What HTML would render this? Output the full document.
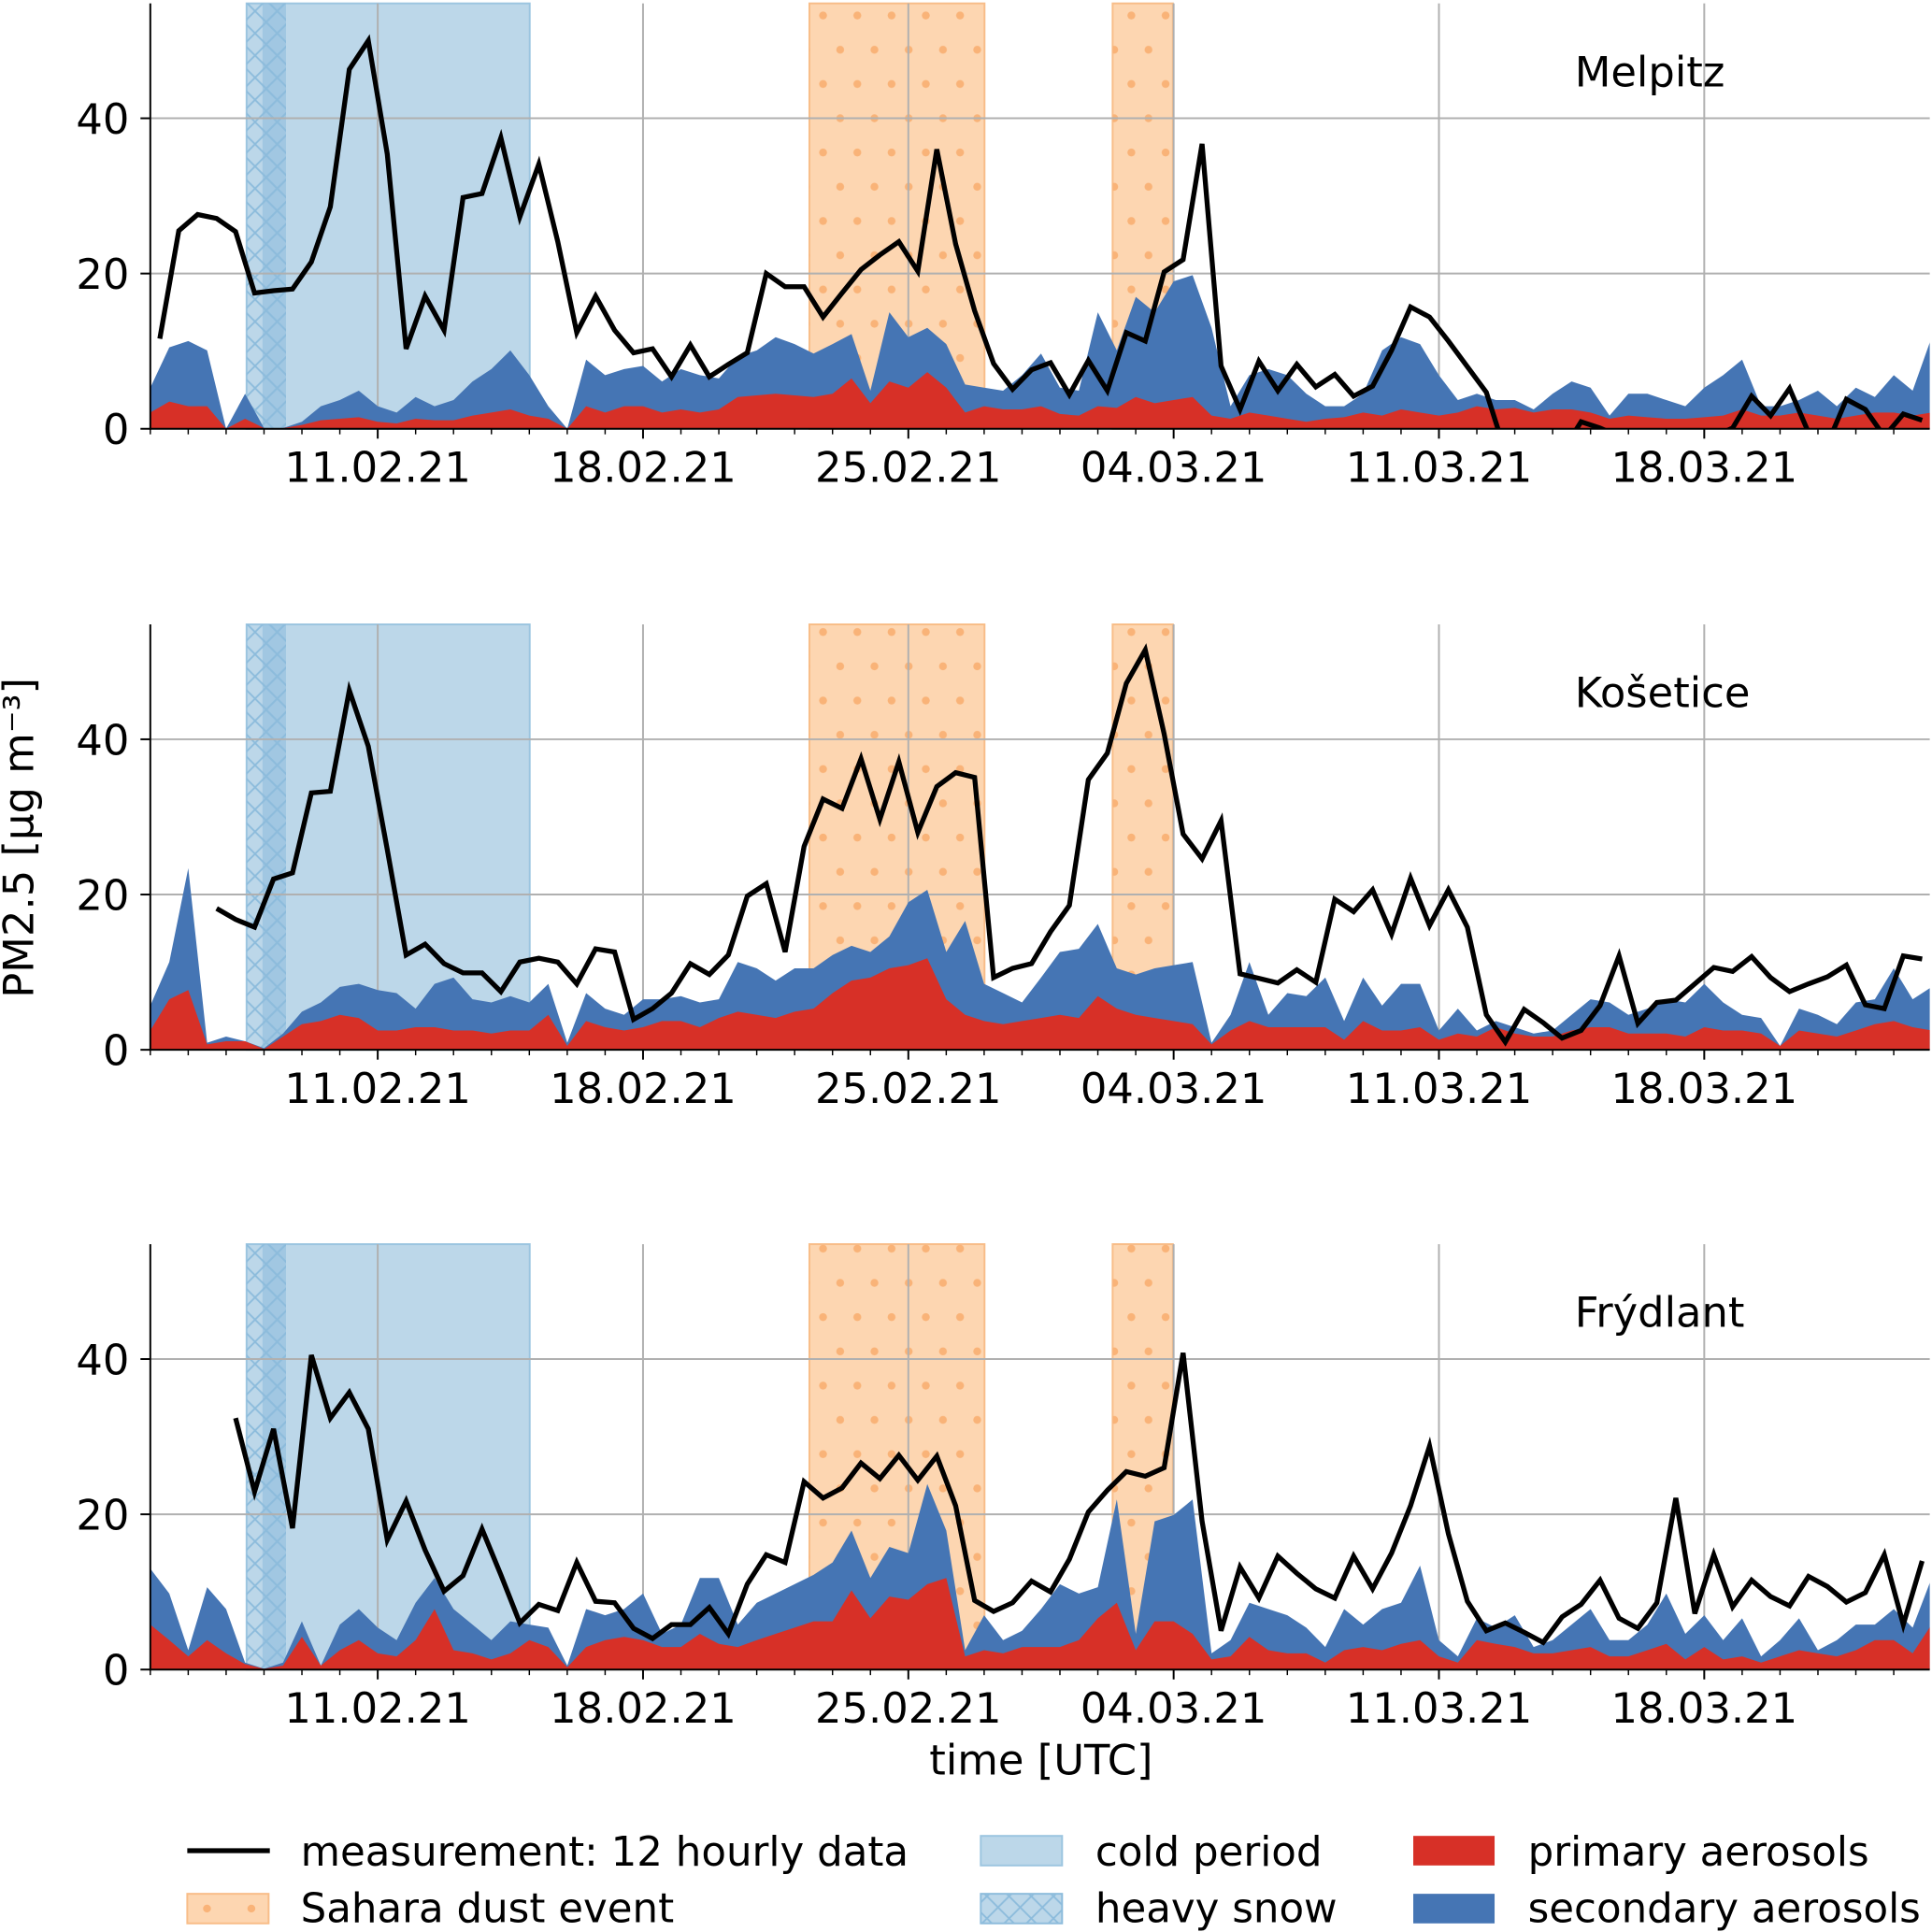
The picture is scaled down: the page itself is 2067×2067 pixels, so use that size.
<!DOCTYPE html>
<html><head><meta charset="utf-8"><style>
html,body{margin:0;padding:0;background:#fff;}
svg{display:block;font-family:"DejaVu Sans","Liberation Sans",sans-serif;}
</style></head><body>
<svg id="chart" width="2067" height="2067" viewBox="0 0 1568 1568" xmlns="http://www.w3.org/2000/svg">
<defs>
<pattern id="dots" patternUnits="userSpaceOnUse" width="27.8" height="55.6" x="0.8" y="0">
<circle cx="0" cy="12.6" r="3.2" fill="#f9b378"/><circle cx="27.8" cy="12.6" r="3.2" fill="#f9b378"/>
<circle cx="13.9" cy="40.4" r="3.2" fill="#f9b378"/>
</pattern>
<pattern id="cross" patternUnits="userSpaceOnUse" width="18" height="18">
<path d="M0,0L18,18M18,0L0,18" stroke="#8dbcdc" stroke-width="1.4" fill="none"/>
</pattern>
</defs>
</svg>
<script>
// ---- data ----
const xTickDays = [6, 13, 20, 27, 34, 41];
const xTickLabels = ['11.02.21','18.02.21','25.02.21','04.03.21','11.03.21','18.03.21'];
const yTicks = [0, 20, 40];
const coldPeriod = [2.54, 10.01];
const heavySnow = [2.54, 3.58];
const heavySnowCore = [2.96, 3.58];
const saharaEvents = [[17.39, 22.01], [25.39, 26.98]];

const melpitzMeas = [11.6,25.5,27.6,27.1,25.4,17.5,17.8,18,21.5,28.6,
46.3,50,35.4,10.3,17.1,12.7,29.8,30.3,37.5,27.3,
34.1,24.1,12.4,17.1,12.7,9.8,10.3,6.7,10.8,6.7,
8.3,9.8,20,18.3,18.3,14.4,17.5,20.5,22.4,24.1,
20.3,36,23.8,15.2,8.4,5.1,7.6,8.5,4.4,8.8,
4.9,12.4,11.3,20.2,21.8,36.7,8.1,2.5,8.7,4.9,
8.3,5.4,7,4.2,5.5,10.1,15.7,14.4,11.3,8,
4.7,-3,-3,-3,-3,0.9,0.1,-1,-1,-1,
-1,-1,-1,0.1,4.2,1.7,5.2,-0.5,-2,3.8,
2.5,-1,1.9,1.1];
const melpitzTotal = [5.3,10.5,11.3,10.1,0,4.5,0.1,0.1,0.9,2.9,
3.7,4.9,2.9,2.1,4.1,2.9,3.7,6.1,7.7,10.1,
6.9,2.9,0,8.9,6.9,7.7,8.1,6.1,7.7,6.9,
6.5,9.3,10.1,11.8,10.9,9.7,10.9,12.2,4.9,15,
11.8,13,10.9,5.7,5.3,4.9,6.9,9.7,5.3,4.9,
15,10.1,17,15,19,19.8,13,2.9,6.9,7.7,
6.9,4.5,2.9,2.9,4.5,10.1,11.8,10.9,6.9,3.7,
4.5,3.7,3.7,2.5,4.5,6.1,5.3,1.7,4.5,4.5,
3.7,2.9,5.3,6.9,8.9,2.9,2.9,3.7,4.9,2.9,
5.3,4.1,6.9,4.9,11.8];
const melpitzPrimary = [2.1,3.5,2.9,2.9,0,1.3,0.1,0.1,0.5,1.1,
1.3,1.5,0.9,0.7,1.3,1.1,1.1,1.7,2.1,2.5,
1.7,1.3,0,2.9,2.1,2.9,2.9,2.1,2.5,2.1,
2.5,4.1,4.3,4.5,4.3,4.1,4.5,6.5,3.3,6.1,
5.3,7.3,5.3,2.1,2.9,2.5,2.5,2.9,1.9,1.7,
2.9,2.7,4.1,3.3,3.7,4.1,1.7,1.3,2.1,1.7,
1.3,0.9,1.3,1.5,2.1,1.7,2.5,2.1,1.7,2.1,
2.9,2.5,2.7,2.1,2.5,2.5,2.1,1.3,1.7,1.5,
1.3,1.3,1.5,1.7,2.5,1.7,1.7,2.1,1.7,1.3,
1.7,2.1,2.1,1.7,2.1];

const kosMeas = [null,null,null,18.2,16.8,15.8,22,22.8,33.1,33.3,
46.3,39.1,25.8,12.2,13.6,11.1,9.9,9.9,7.5,11.3,
11.8,11.3,8.5,13,12.6,3.9,5.3,7.3,11.1,9.7,
12.2,19.8,21.4,12.6,26.2,32.3,31.1,37.5,29.7,37.1,
28,33.9,35.7,35.1,9.3,10.5,11.1,15.2,18.6,34.8,
38.2,47.2,51.5,40.7,27.8,24.6,29.5,9.8,9.2,8.6,
10.3,8.7,19.4,17.8,20.6,14.9,22.1,16,20.6,15.8,
4.5,1,5.2,3.5,1.5,2.5,5.7,12.1,3.4,6.1,
6.4,8.5,10.6,10.1,12,9.3,7.5,8.5,9.4,10.9,
5.8,5.3,12.1,11.7];
const kosTotal = [5.7,11.3,23.4,0.9,1.7,1.1,0.2,2.1,4.9,6.1,
8.1,8.5,7.7,7.3,5.3,8.5,9.3,6.5,6.1,6.9,
6.1,8.5,0.9,7.3,5.3,4.5,6.5,6.5,6.9,6.1,
6.5,11.3,10.5,8.9,10.5,10.5,12.2,13.4,12.6,14.6,
19,20.6,12.6,16.6,8.5,7.3,6.1,9.3,12.6,13,
16.2,10.5,9.7,10.5,10.9,11.3,0.9,4.5,11.3,4.5,
7.3,6.9,9.3,3.7,9.3,5.7,8.5,8.5,2.5,5.3,
2.5,3.7,2.9,2.1,2.5,4.5,6.5,6.1,4.5,5.3,
6.5,6.1,8.5,6.1,4.5,4.1,0.5,5.3,4.5,3.3,
6.1,6.5,10.5,6.5,8.1];
const kosPrimary = [2.5,6.5,7.7,0.7,1.1,1.1,0.1,1.7,3.3,3.7,
4.5,4.1,2.5,2.5,2.9,2.9,2.5,2.5,2.1,2.5,
2.5,4.5,0.5,3.7,2.9,2.5,2.9,3.7,3.7,2.9,
4.1,4.9,4.5,4.1,4.9,5.3,7.3,8.9,9.3,10.5,
10.9,11.8,6.5,4.5,3.7,3.3,3.7,4.1,4.5,4.1,
6.9,5.3,4.5,4.1,3.7,3.3,0.7,2.5,3.7,2.9,
2.9,2.9,2.9,1.3,3.7,2.5,2.5,2.9,1.3,2.1,
1.7,2.9,2.1,1.7,1.7,2.5,2.9,2.9,2.1,2.1,
2.1,1.7,2.9,2.5,2.5,2.1,0.5,2.5,2.1,1.7,
2.5,3.3,3.7,2.9,2.5];

const fryMeas = [null,null,null,null,32.4,22.9,31,18.2,40.5,32.4,
35.7,31,16.7,21.7,15.4,10.1,12.1,18.1,12.2,6,
8.4,7.6,13.8,8.8,8.6,5.3,4,5.8,5.8,8,
4.6,11,14.8,13.8,24.2,22.1,23.4,26.6,24.6,27.6,
24.4,27.5,21.1,8.9,7.5,8.6,11.4,10,14.2,20.3,
23.1,25.5,24.9,26,40.8,19.1,5,13.2,9.2,14.6,
12.4,10.4,9.2,14.6,10.4,15,21.1,28.8,17.5,8.8,
5,6,4.8,3.5,6.8,8.4,11.5,6.6,5.3,8.6,
22.1,7.2,14.8,8.1,11.5,9.4,8.2,12,10.7,8.7,
9.9,14.8,5.8,14];
const fryTotal = [13,9.8,2.5,10.6,7.8,0.9,0.1,0.9,6.2,0.5,
5.8,7.8,5.4,3.8,8.6,11.8,7.8,5.8,3.8,6.2,
5.8,5.4,0.5,7.8,7,7.8,9.8,4.6,5.8,11.8,
11.8,5.8,8.6,9.8,11,12.2,13.8,17.9,11.8,15.8,
15,23.9,17.9,2.5,7,3.8,5,7.8,11,9.8,
10.6,21.9,4.6,19.1,19.9,21.9,2.1,3.8,8.6,7.8,
7,5.4,2.9,7.8,5.8,7.8,8.6,13.4,3.8,1.7,
6.6,5.4,7,2.9,3.8,5.8,7.8,3.8,3.8,5.8,
9.8,4.6,7,3.8,6.6,1.7,3.8,6.6,2.5,3.8,
5.8,5.8,7.8,5.4,11.8];
const fryPrimary = [5.8,3.8,1.7,3.8,2.1,0.7,0.1,0.5,4.2,0.5,
2.5,3.8,2.1,1.7,3.8,7.8,2.5,2.1,1.3,2.1,
3.8,2.9,0.3,2.9,3.8,4.2,3.8,2.9,2.9,4.6,
3.3,2.9,3.8,4.6,5.4,6.2,6.2,10.2,6.6,9.4,
9,11,11.8,1.7,2.5,2.1,2.9,2.9,2.9,3.8,
6.6,8.6,2.5,6.2,6.2,4.6,1.3,1.7,4.2,2.5,
2.1,2.1,0.9,2.5,2.9,2.5,3.3,3.8,1.7,0.9,
3.8,3.3,2.9,2.1,2.1,2.5,2.9,1.7,1.7,2.5,
3.3,1.3,2.9,1.3,1.7,0.9,1.7,2.5,2.1,1.7,
2.5,3.8,3.8,2.1,5.8];

const stationNames = ['Melpitz','Košetice','Frýdlant'];

// ---- layout ----
const NS = 'http://www.w3.org/2000/svg';
const svg = document.getElementById('chart');
const X0 = 122, PXD = 30.76, TMAX = 46.95, YMAX = 54.8, PXU = 6.3;
const panelZeros = [348, 852, 1355];
function xScale(t){ return X0 + t * PXD; }
function yScale(v, zero){ return zero - v * PXU; }
function mk(tag, attrs, parent){
  const e = document.createElementNS(NS, tag);
  for (const k in attrs) e.setAttribute(k, attrs[k]);
  (parent || svg).appendChild(e);
  return e;
}
const XEND = xScale(TMAX);

const meas = [melpitzMeas, kosMeas, fryMeas];
const totals = [melpitzTotal, kosTotal, fryTotal];
const prims = [melpitzPrimary, kosPrimary, fryPrimary];

panelZeros.forEach((zero, pi) => {
  const top = yScale(YMAX, zero);
  const g = mk('g', {});
  
  
  const clipId = 'clip' + pi;
  const cp = mk('clipPath', {id: clipId}, g);
  mk('rect', {x: X0, y: top, width: XEND - X0, height: zero - top}, cp);

  const cold = mk('rect', {x: xScale(coldPeriod[0]), y: top, width: xScale(coldPeriod[1]) - xScale(coldPeriod[0]), height: zero - top, fill: '#bcd7e9', stroke: '#9cc5e0', 'stroke-width': 1.5}, g);
  
  
  const snow = mk('rect', {x: xScale(heavySnow[0]), y: top, width: xScale(heavySnow[1]) - xScale(heavySnow[0]), height: zero - top, fill: 'url(#cross)'}, g);
  
  
  const snow2 = mk('rect', {x: xScale(heavySnowCore[0]), y: top, width: xScale(heavySnowCore[1]) - xScale(heavySnowCore[0]), height: zero - top, fill: '#8fbddd', opacity: 0.6}, g);
  
  
  mk('rect', {x: xScale(heavySnowCore[0]), y: top, width: xScale(heavySnowCore[1]) - xScale(heavySnowCore[0]), height: zero - top, fill: 'url(#cross)'}, g);
  saharaEvents.forEach((ev, ei) => {
    const r = mk('rect', {x: xScale(ev[0]), y: top, width: xScale(ev[1]) - xScale(ev[0]), height: zero - top, fill: '#fdd6b1', stroke: '#f8bd88', 'stroke-width': 1.5}, g);
    
    
    mk('rect', {x: xScale(ev[0]), y: top, width: xScale(ev[1]) - xScale(ev[0]), height: zero - top, fill: 'url(#dots)'}, g);
  });
  xTickDays.forEach(d => {
    const l = mk('line', {x1: xScale(d), x2: xScale(d), y1: top, y2: zero, stroke: '#b0b0b0', 'stroke-width': 1.5}, g);
    
    
  });
  yTicks.forEach(v => {
    if (v === 0) return;
    const l = mk('line', {x1: X0, x2: XEND, y1: yScale(v, zero), y2: yScale(v, zero), stroke: '#b0b0b0', 'stroke-width': 1.5}, g);
    
    
  });
  const tot = totals[pi], pr = prims[pi];
  let dT = 'M' + xScale(0) + ',' + zero;
  tot.forEach((v, j) => { dT += 'L' + xScale(j * 0.5).toFixed(1) + ',' + yScale(v, zero).toFixed(1); });
  dT += 'L' + xScale((tot.length - 1) * 0.5).toFixed(1) + ',' + zero + 'Z';
  const aT = mk('path', {d: dT, fill: '#4575b4', 'clip-path': 'url(#' + clipId + ')'}, g);
  
  
  let dP = 'M' + xScale(0) + ',' + zero;
  pr.forEach((v, j) => { dP += 'L' + xScale(j * 0.5).toFixed(1) + ',' + yScale(v, zero).toFixed(1); });
  dP += 'L' + xScale((pr.length - 1) * 0.5).toFixed(1) + ',' + zero + 'Z';
  const aP = mk('path', {d: dP, fill: '#d73027', 'clip-path': 'url(#' + clipId + ')'}, g);
  
  
  let dL = '', pen = false;
  meas[pi].forEach((v, k) => {
    if (v === null) { pen = false; return; }
    dL += (pen ? 'L' : 'M') + xScale(0.25 + 0.5 * k).toFixed(1) + ',' + yScale(v, zero).toFixed(1);
    pen = true;
  });
  const ln = mk('path', {d: dL, fill: 'none', stroke: '#000', 'stroke-width': 4, 'stroke-linejoin': 'miter', 'clip-path': 'url(#' + clipId + ')'}, g);
  
  

  const sl = mk('line', {x1: X0, x2: X0, y1: top, y2: zero + 0.75, stroke: '#000', 'stroke-width': 1.5}, g);
  
  
  const sb = mk('line', {x1: X0 - 0.75, x2: XEND, y1: zero, y2: zero, stroke: '#000', 'stroke-width': 1.5}, g);
  
  
  for (let d = 0; d <= 46; d++) {
    const major = xTickDays.indexOf(d) >= 0;
    mk('line', {x1: xScale(d), x2: xScale(d), y1: zero, y2: zero + (major ? 8 : 4.5), stroke: '#000', 'stroke-width': major ? 1.5 : 1.1}, g);
  }
  xTickDays.forEach((d, i) => {
    const t = mk('text', {x: xScale(d), y: zero + 43, 'font-size': 34, 'text-anchor': 'middle', fill: '#000'}, g);
    t.textContent = xTickLabels[i];
    
    
  });
  yTicks.forEach(v => {
    mk('line', {x1: X0 - 8, x2: X0, y1: yScale(v, zero), y2: yScale(v, zero), stroke: '#000', 'stroke-width': 1.5}, g);
    const t = mk('text', {x: 105, y: yScale(v, zero) + 12.4, 'font-size': 34, 'text-anchor': 'end', fill: '#000'}, g);
    t.textContent = String(v);
    
    
  });
  const st = mk('text', {x: 1278, y: zero - 278, 'font-size': 34, fill: '#000'}, g);
  st.textContent = stationNames[pi];
  
  
});

const yt = mk('text', {x: 0, y: 0, 'font-size': 34, 'text-anchor': 'middle', transform: 'translate(27,680) rotate(-90)'});
yt.textContent = 'PM2.5 [μg m⁻³]';


const xt = mk('text', {x: 845, y: 1440, 'font-size': 34, 'text-anchor': 'middle'});
xt.textContent = 'time [UTC]';



const lg = mk('g', {});


function legendText(x, y, s){
  const t = mk('text', {x: x, y: y, 'font-size': 33}, lg);
  t.textContent = s;
  
  
}
const lm = mk('line', {x1: 152, x2: 219, y1: 1502, y2: 1502, stroke: '#000', 'stroke-width': 4}, lg);


legendText(244, 1514, 'measurement: 12 hourly data');
const ls = mk('rect', {x: 152, y: 1537, width: 66, height: 24, fill: '#fdd6b1', stroke: '#f8bd88', 'stroke-width': 1.5}, lg);


mk('circle', {cx: 168, cy: 1549, r: 3.2, fill: '#f9b378'}, lg);
mk('circle', {cx: 204, cy: 1549, r: 3.2, fill: '#f9b378'}, lg);
legendText(244, 1560, 'Sahara dust event');
const lc = mk('rect', {x: 796, y: 1490, width: 66, height: 24, fill: '#bcd7e9', stroke: '#9cc5e0', 'stroke-width': 1.5}, lg);


legendText(889, 1514, 'cold period');
const lh = mk('rect', {x: 796, y: 1537, width: 66, height: 24, fill: '#bcd7e9', stroke: '#8dbcdc', 'stroke-width': 1.5}, lg);


mk('rect', {x: 796, y: 1537, width: 66, height: 24, fill: 'url(#cross)'}, lg);
legendText(889, 1560, 'heavy snow');
const lp = mk('rect', {x: 1147, y: 1490, width: 66, height: 24, fill: '#d73027'}, lg);


legendText(1240, 1514, 'primary aerosols');
const lsec = mk('rect', {x: 1147, y: 1537, width: 66, height: 24, fill: '#4575b4'}, lg);


legendText(1240, 1560, 'secondary aerosols');
</script>
</body></html>
